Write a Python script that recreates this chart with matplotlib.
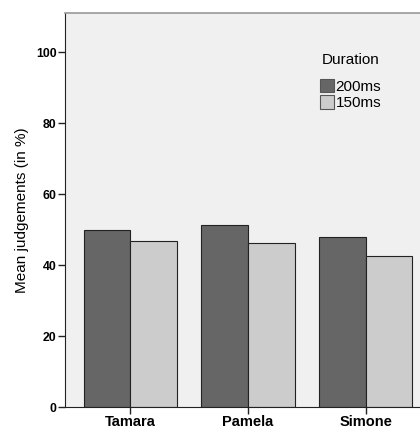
import matplotlib
matplotlib.use("Agg")
import matplotlib.pyplot as plt
from matplotlib.patches import Patch
import numpy as np

plt.rcParams['font.family'] = ['Liberation Sans', 'DejaVu Sans']

categories = ["Tamara", "Pamela", "Simone"]
series_names = ["200ms", "150ms"]
values_200 = [49.9, 51.2, 48.0]
values_150 = [46.7, 46.3, 42.5]
yticks = [0, 20, 40, 60, 80, 100]
legend_title = "Duration"
colors = ["#666666", "#cccccc"]

fig = plt.figure(figsize=(4.2, 4.29), dpi=100)
ax = fig.add_axes([65/420, 22/429, 366/420, 394/429])
ax.set_facecolor("#f0f0f0")

x = np.arange(len(categories))
w = 0.397
ax.bar(x - w/2, values_200, width=w, color=colors[0], edgecolor="#222222", linewidth=0.8, zorder=2)
ax.bar(x + w/2, values_150, width=w, color=colors[1], edgecolor="#222222", linewidth=0.8, zorder=2)

ax.set_xlim(-0.555, 2.555)
ax.set_ylim(0, 111)
ax.set_xticks(x)
ax.set_xticklabels(categories, fontsize=10.5, fontweight='bold')
ax.set_yticks(yticks)
ax.set_yticklabels([str(t) for t in yticks], fontsize=8.8, fontweight='bold')
ax.tick_params(axis='both', direction='out', length=5, width=1, color='#222222', pad=1)
ax.tick_params(axis='x', pad=0.5)

ax.spines['right'].set_visible(False)
ax.spines['top'].set_color('#999999')
ax.spines['top'].set_linewidth(1.2)
ax.spines['left'].set_color('#222222')
ax.spines['bottom'].set_color('#222222')

ax.set_ylabel("Mean judgements (in %)", fontsize=11, labelpad=5)

fig.text(322/420, 1 - 60.5/429, legend_title, fontsize=11, ha='left', va='center')
handles = [Patch(facecolor=c, edgecolor='#555555', linewidth=0.8) for c in colors]
leg = fig.legend(handles, series_names, loc='upper left', bbox_to_anchor=(320/420, 1 - 79/429),
                 bbox_transform=fig.transFigure, frameon=False, fontsize=11,
                 handlelength=0.92, handleheight=0.95, handletextpad=0.1, labelspacing=0.1,
                 borderpad=0, borderaxespad=0)

fig.savefig("out.png", dpi=100)
